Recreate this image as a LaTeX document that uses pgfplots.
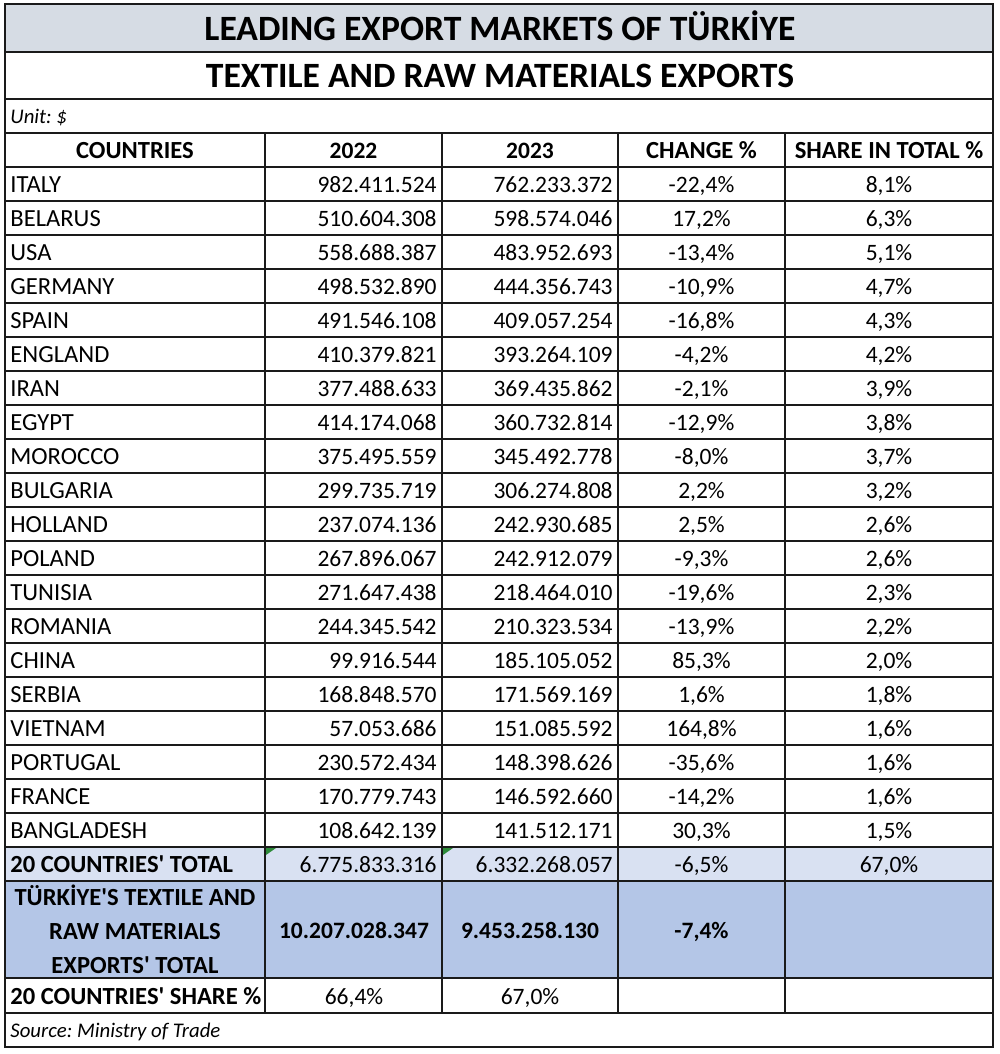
\documentclass[border=0pt]{standalone}
\usepackage{pgfplots}
\pgfplotsset{compat=1.18}
\usepackage{pgfplotstable}
\usepackage{fontspec}
\setmainfont{Carlito}
\frenchspacing
\definecolor{titlegray}{HTML}{D6DCE4}
\definecolor{totblue}{HTML}{D9E1F2}
\definecolor{trblue}{HTML}{B4C6E7}
\definecolor{gridc}{HTML}{1A1A1A}
\definecolor{xlgreen}{HTML}{2E8B3A}
\newcommand{\q}{\textquotesingle}
\newcommand{\bodyf}{\fontsize{11.75}{14}\selectfont}
\newcommand{\letf}{\fontsize{12.3}{14}\selectfont}
\newcommand{\itf}{\fontsize{10.4}{13}\selectfont\itshape}
\pgfplotstableread[col sep=semicolon,row sep=\\]{
y;country;a;b;c;s\\
192.5;ITALY;982.411.524;762.233.372;-22,4\%;8,1\%\\
226.5;BELARUS;510.604.308;598.574.046;17,2\%;6,3\%\\
260.5;USA;558.688.387;483.952.693;-13,4\%;5,1\%\\
294.5;GERMANY;498.532.890;444.356.743;-10,9\%;4,7\%\\
328.5;SPAIN;491.546.108;409.057.254;-16,8\%;4,3\%\\
362.5;ENGLAND;410.379.821;393.264.109;-4,2\%;4,2\%\\
396.5;IRAN;377.488.633;369.435.862;-2,1\%;3,9\%\\
430.5;EGYPT;414.174.068;360.732.814;-12,9\%;3,8\%\\
464.5;MOROCCO;375.495.559;345.492.778;-8,0\%;3,7\%\\
498.5;BULGARIA;299.735.719;306.274.808;2,2\%;3,2\%\\
532.5;HOLLAND;237.074.136;242.930.685;2,5\%;2,6\%\\
566.5;POLAND;267.896.067;242.912.079;-9,3\%;2,6\%\\
600.5;TUNISIA;271.647.438;218.464.010;-19,6\%;2,3\%\\
634.5;ROMANIA;244.345.542;210.323.534;-13,9\%;2,2\%\\
668.5;CHINA;99.916.544;185.105.052;85,3\%;2,0\%\\
702.5;SERBIA;168.848.570;171.569.169;1,6\%;1,8\%\\
736.5;VIETNAM;57.053.686;151.085.592;164,8\%;1,6\%\\
770.5;PORTUGAL;230.572.434;148.398.626;-35,6\%;1,6\%\\
804.5;FRANCE;170.779.743;146.592.660;-14,2\%;1,6\%\\
838.5;BANGLADESH;108.642.139;141.512.171;30,3\%;1,5\%\\
}\rows
\begin{document}
\begin{tikzpicture}
\begin{axis}[
  scale only axis, width=500pt, height=527pt,
  xmin=0, xmax=1000, ymin=0, ymax=1054, y dir=reverse,
  hide axis, clip=false,
  txt/.style={only marks, mark=none, point meta=explicit symbolic,
     nodes near coords={\pgfplotspointmeta},
     every node near coord/.append style={inner sep=0pt, text=black, #1}},
]
% backgrounds
\addplot[fill=white, draw=none, mark=none] coordinates {(0,0)(1000,0)(1000,1054)(0,1054)} -- cycle;
\addplot[fill=titlegray, draw=none, mark=none] coordinates {(5,4)(993,4)(993,52)(5,52)} -- cycle;
\addplot[fill=totblue, draw=none, mark=none] coordinates {(5,847)(993,847)(993,881)(5,881)} -- cycle;
\addplot[fill=trblue, draw=none, mark=none] coordinates {(5,881)(993,881)(993,978)(5,978)} -- cycle;
\addplot[fill=xlgreen, draw=none, mark=none] coordinates {(266,848)(276,848)(266,855)} -- cycle;
\addplot[fill=xlgreen, draw=none, mark=none] coordinates {(443,848)(453,848)(443,855)} -- cycle;
% grid lines
\addplot[draw=gridc, line width=1pt, mark=none, unbounded coords=jump] table[row sep=\\] {
x y\\
5 52\\ 993 52\\ nan nan\\
5 99\\ 993 99\\ nan nan\\
5 133\\ 993 133\\ nan nan\\
5 167\\ 993 167\\ nan nan\\
5 201\\ 993 201\\ nan nan\\
5 235\\ 993 235\\ nan nan\\
5 269\\ 993 269\\ nan nan\\
5 303\\ 993 303\\ nan nan\\
5 337\\ 993 337\\ nan nan\\
5 371\\ 993 371\\ nan nan\\
5 405\\ 993 405\\ nan nan\\
5 439\\ 993 439\\ nan nan\\
5 473\\ 993 473\\ nan nan\\
5 507\\ 993 507\\ nan nan\\
5 541\\ 993 541\\ nan nan\\
5 575\\ 993 575\\ nan nan\\
5 609\\ 993 609\\ nan nan\\
5 643\\ 993 643\\ nan nan\\
5 677\\ 993 677\\ nan nan\\
5 711\\ 993 711\\ nan nan\\
5 745\\ 993 745\\ nan nan\\
5 779\\ 993 779\\ nan nan\\
5 813\\ 993 813\\ nan nan\\
5 847\\ 993 847\\ nan nan\\
5 881\\ 993 881\\ nan nan\\
5 978\\ 993 978\\ nan nan\\
5 1013\\ 993 1013\\ nan nan\\
265 133\\ 265 1013\\ nan nan\\
442 133\\ 442 1013\\ nan nan\\
618 133\\ 618 1013\\ nan nan\\
785 133\\ 785 1013\\
};
\addplot[draw=gridc, line width=1pt, mark=none] coordinates {(5,4)(993,4)(993,1047)(5,1047)} -- cycle;
% titles
\addplot[txt={anchor=base, font=\fontsize{17.8}{21}\selectfont\bfseries}] table[col sep=semicolon, row sep=\\, meta=t] {
x;y;t\\
500;40.5;LEADING EXPORT MARKETS OF TÜRKİYE\\
500;88;TEXTILE AND RAW MATERIALS EXPORTS\\
};
% italic notes
\addplot[txt={anchor=base west, font=\itf}] table[col sep=semicolon, row sep=\\, meta=t] {
x;y;t\\
10;124;Unit: \$\\
10;1037.5;Source: Ministry of Trade\\
};
% bold centred labels
\addplot[txt={anchor=base, font=\letf\bfseries}] table[col sep=semicolon, row sep=\\, meta=t] {
x;y;t\\
135;158.5;COUNTRIES\\
701.5;158.5;CHANGE \%\\
889;158.5;SHARE IN TOTAL \%\\
135;905;TÜRKİYE\q{}S TEXTILE AND\\
135;939;RAW MATERIALS\\
135;973;EXPORTS\q{} TOTAL\\
};
% bold centred numbers
\addplot[txt={anchor=base, font=\bodyf\bfseries}] table[col sep=semicolon, row sep=\\, meta=t] {
x;y;t\\
353.5;158.5;2022\\
530;158.5;2023\\
354;938;10.207.028.347\\
530;938;9.453.258.130\\
701.5;938;-7,4\%\\
};
% bold left
\addplot[txt={anchor=base west, font=\letf\bfseries}] table[col sep=semicolon, row sep=\\, meta=t] {
x;y;t\\
10;872.5;20 COUNTRIES\q{} TOTAL\\
10;1004;20 COUNTRIES\q{} SHARE \%\\
};
% regular right (totals)
\addplot[txt={anchor=base east, font=\bodyf}] table[col sep=semicolon, row sep=\\, meta=t] {
x;y;t\\
437;872.5;6.775.833.316\\
613;872.5;6.332.268.057\\
};
% regular centred (totals)
\addplot[txt={anchor=base, font=\bodyf}] table[col sep=semicolon, row sep=\\, meta=t] {
x;y;t\\
701.5;872.5;-6,5\%\\
889;872.5;67,0\%\\
354;1004;66,4\%\\
530;1004;67,0\%\\
};
% country rows
\addplot[txt={anchor=base west, font=\letf}] table[x expr=10, y=y, meta=country] {\rows};
\addplot[txt={anchor=base east, font=\bodyf}] table[x expr=437, y=y, meta=a] {\rows};
\addplot[txt={anchor=base east, font=\bodyf}] table[x expr=613, y=y, meta=b] {\rows};
\addplot[txt={anchor=base, font=\bodyf}] table[x expr=701.5, y=y, meta=c] {\rows};
\addplot[txt={anchor=base, font=\bodyf}] table[x expr=889, y=y, meta=s] {\rows};
\end{axis}
\end{tikzpicture}
\end{document}
